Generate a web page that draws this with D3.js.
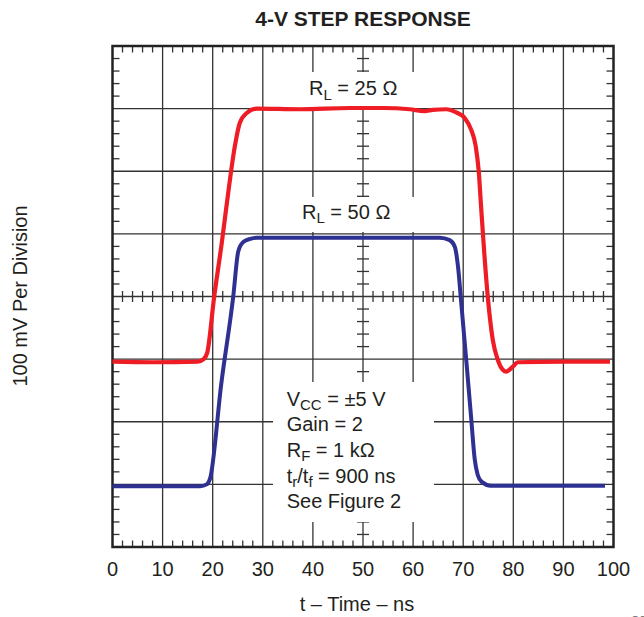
<!DOCTYPE html>
<html>
<head>
<meta charset="utf-8">
<script src="https://cdn.jsdelivr.net/npm/d3@7"></script>
<style>
  body { margin: 0; background: #fff; }
  text { font-family: "Liberation Sans", Arial, sans-serif; fill: #231f20; }
</style>
</head>
<body>
<div id="chart"></div>
<script>
// time axis (ns) and vertical position in scope divisions
var xTicks = [0, 10, 20, 30, 40, 50, 60, 70, 80, 90, 100];

// RL = 25 ohm trace (red)
var redT = [0, 8, 17, 18.2, 18.9, 20.3, 21.8, 23.3, 24.1, 24.6, 25.4, 26.8, 28.8, 37.4, 47.4, 54, 59.3, 62.3, 63.9, 66.6, 68.6, 70.3, 71.6, 72.5, 73.1, 73.6, 74.2, 74.9, 75.9, 76.9, 77.9, 78.6, 79.9, 80.9, 90, 99.3];
var redV = [-1.04, -1.05, -1.04, -1.0, -0.9, 0, 0.85, 1.78, 2.24, 2.48, 2.77, 2.93, 3.0, 2.99, 3.01, 3.01, 2.99, 2.96, 2.98, 2.99, 2.94, 2.85, 2.66, 2.4, 2.0, 1.4, 0.7, 0, -0.69, -1.01, -1.17, -1.2, -1.12, -1.05, -1.04, -1.04];

// RL = 50 ohm trace (blue)
var blueT = [0, 10, 17.5, 18.8, 19.5, 21.7, 24.1, 25.1, 26.1, 27.5, 28.8, 40, 50, 60, 65.3, 67.3, 68.3, 69.0, 69.5, 70.7, 71.6, 72.3, 72.9, 73.7, 75.5, 85, 98.3];
var blueV = [-3.03, -3.03, -3.03, -3.0, -2.9, -1.4, 0, 0.72, 0.87, 0.92, 0.94, 0.94, 0.94, 0.94, 0.94, 0.9, 0.8, 0.45, 0, -1.1, -1.95, -2.6, -2.85, -2.96, -3.02, -3.02, -3.02];

var notes = ["V|CC| = \u00b15 V", "Gain = 2", "R|F| = 1 k\u03a9", "t|r|/t|f| = 900 ns", "See Figure 2"];

var W = 644, H = 617;
var pL = 112.5, pT = 46, pR = 613.5, pB = 547;

var x = d3.scaleLinear().domain([0, 100]).range([pL, pR]);
var y = d3.scaleLinear().domain([-4, 4]).range([pB, pT]);

var svg = d3.select("#chart").append("svg")
    .attr("width", W)
    .attr("height", H);

var grid = svg.append("g").attr("stroke", "#333").attr("stroke-width", 1.3);

// major grid
grid.selectAll(".vl")
    .data(d3.range(10, 100, 10))
  .enter().append("line")
    .attr("x1", function(d) { return x(d); })
    .attr("x2", function(d) { return x(d); })
    .attr("y1", pT).attr("y2", pB);

grid.selectAll(".hl")
    .data(d3.range(-3, 4, 1))
  .enter().append("line")
    .attr("y1", function(d) { return y(d); })
    .attr("y2", function(d) { return y(d); })
    .attr("x1", pL).attr("x2", pR);

// minor ticks: every 2 ns along x, every 0.2 div along y
var xMinor = d3.range(2, 100, 2).filter(function(d) { return d % 10 != 0; });
var yMinor = d3.range(-19, 20, 1).filter(function(d) { return d % 5 != 0; }).map(function(d) { return d / 5; });

function xTickRow(yPos, y1off, y2off) {
  grid.append("g").selectAll("line")
      .data(xMinor)
    .enter().append("line")
      .attr("x1", function(d) { return x(d); })
      .attr("x2", function(d) { return x(d); })
      .attr("y1", yPos + y1off).attr("y2", yPos + y2off);
}
function yTickCol(xPos, x1off, x2off) {
  grid.append("g").selectAll("line")
      .data(yMinor)
    .enter().append("line")
      .attr("y1", function(d) { return y(d); })
      .attr("y2", function(d) { return y(d); })
      .attr("x1", xPos + x1off).attr("x2", xPos + x2off);
}
xTickRow(pT, 0, 6.5);
xTickRow(pB, 0, -6.5);
xTickRow(y(0), -5.5, 5.5);
yTickCol(pL, 0, 7);
yTickCol(pR, 0, -7);
yTickCol(x(50), -6, 6);

// white boxes behind labels
var boxes = [[300, 72, 120, 36], [295, 197, 125, 35], [273, 382, 161, 140]];
svg.selectAll(".box")
    .data(boxes)
  .enter().append("rect")
    .attr("x", function(d) { return d[0]; })
    .attr("y", function(d) { return d[1]; })
    .attr("width", function(d) { return d[2]; })
    .attr("height", function(d) { return d[3]; })
    .attr("fill", "#fff");

// frame
svg.append("rect")
    .attr("x", pL).attr("y", pT)
    .attr("width", pR - pL).attr("height", pB - pT)
    .attr("fill", "none")
    .attr("stroke", "#222")
    .attr("stroke-width", 2.5);

// text with |sub| markup
function subText(g, str, xPos, yPos) {
  var t = g.append("text").attr("x", xPos).attr("y", yPos).attr("font-size", 20);
  str.split("|").forEach(function(part, i) {
    if (part === "") return;
    if (i % 2 == 1) {
      t.append("tspan").attr("font-size", 15).attr("dy", 4.5).text(part);
    } else {
      t.append("tspan").attr("dy", i > 0 ? -4.5 : 0).text(part);
    }
  });
  return t;
}

subText(svg, "R|L| = 25 \u03a9", 309, 95);
subText(svg, "R|L| = 50 \u03a9", 302, 218.5);
notes.forEach(function(n, i) {
  subText(svg, n, 286.7, 405.7 + i * 25.6);
});

// traces
var line = d3.line()
    .x(function(d) { return x(d[0]); })
    .y(function(d) { return y(d[1]); })
    .curve(d3.curveMonotoneX);

svg.append("path")
    .datum(d3.zip(blueT, blueV))
    .attr("fill", "none")
    .attr("stroke", "#2e3192")
    .attr("stroke-width", 4)
    .attr("stroke-linejoin", "round")
    .attr("d", line);

svg.append("path")
    .datum(d3.zip(redT, redV))
    .attr("fill", "none")
    .attr("stroke", "#ee1c25")
    .attr("stroke-width", 4.2)
    .attr("stroke-linejoin", "round")
    .attr("d", line);

// x tick labels
svg.selectAll(".xl")
    .data(xTicks)
  .enter().append("text")
    .attr("x", function(d) { return x(d); })
    .attr("y", 576)
    .attr("text-anchor", "middle")
    .attr("font-size", 20)
    .text(function(d) { return d; });

svg.append("text")
    .attr("x", 357).attr("y", 611)
    .attr("text-anchor", "middle")
    .attr("font-size", 20)
    .text("t \u2013 Time \u2013 ns");

svg.append("text")
    .attr("transform", "translate(27,296) rotate(-90)")
    .attr("text-anchor", "middle")
    .attr("font-size", 20)
    .text("100 mV Per Division");

svg.append("text")
    .attr("x", x(50)).attr("y", 26)
    .attr("text-anchor", "middle")
    .attr("font-size", 21)
    .attr("font-weight", "bold")
    .text("4-V STEP RESPONSE");

svg.append("text")
    .attr("x", 631).attr("y", 624)
    .attr("font-size", 11)
    .style("fill", "#666")
    .text("G008");
</script>
</body>
</html>
